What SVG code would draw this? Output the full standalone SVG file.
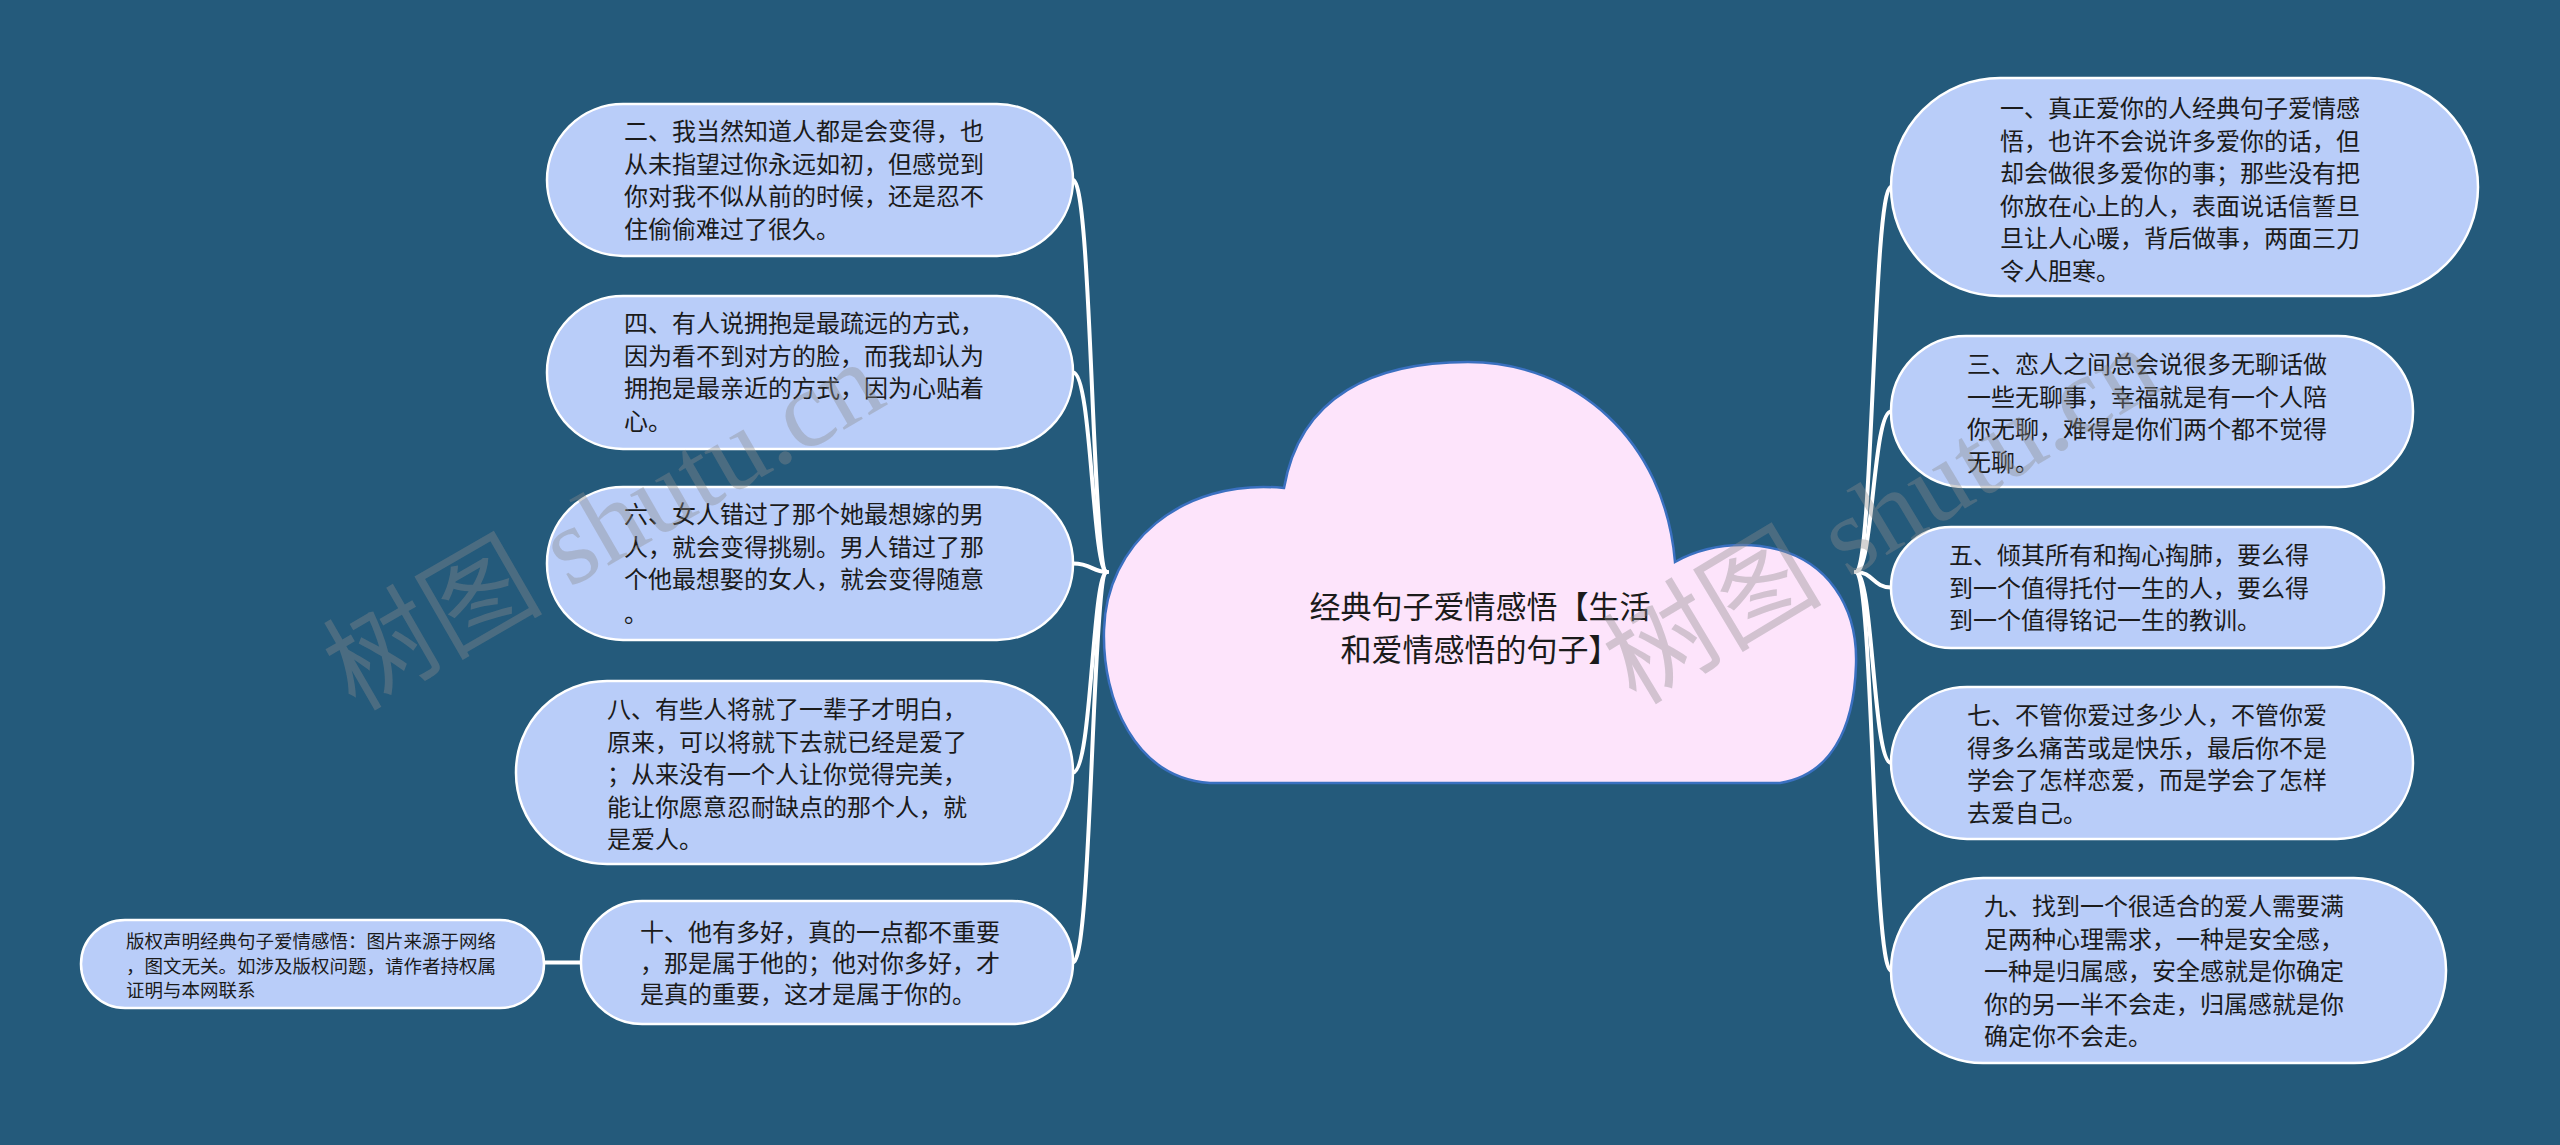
<svg xmlns="http://www.w3.org/2000/svg" width="2560" height="1145" viewBox="0 0 2560 1145">
<style>
.bg{fill:#245a7b}
.node{fill:#b9cdf9;stroke:#ffffff;stroke-width:2.5}
.t{font-family:"Noto Sans CJK SC","Noto Sans",sans-serif;font-size:24px;fill:#1b1b1b}
.ts{font-family:"Noto Sans CJK SC","Noto Sans",sans-serif;font-size:18.5px;fill:#1b1b1b}
.tc{font-family:"Noto Sans CJK SC","Noto Sans",sans-serif;font-size:31px;fill:#1b1b1b;text-anchor:middle}
.edge{fill:none;stroke:#ffffff;stroke-width:4;stroke-linecap:round}
.wm{font-family:"Liberation Serif","Noto Sans CJK SC",serif;font-size:110px;fill:#8c8c8c;fill-opacity:0.38}
</style>
<rect class="bg" x="0" y="0" width="2560" height="1145"/>

<g id="connectors">
<path class="edge" d="M1107,572 C1092,572 1092,180 1073,180"/>
<path class="edge" d="M1107,572 C1092,572 1092,372.5 1073,372.5"/>
<path class="edge" d="M1107,572 C1092,572 1092,563.5 1073,563.5"/>
<path class="edge" d="M1107,572 C1092,572 1092,772.5 1073,772.5"/>
<path class="edge" d="M1107,572 C1092,572 1092,962.5 1073,962.5"/>
<path class="edge" d="M544,962.5 L580,962.5"/>
<path class="edge" d="M1856,572 C1873,572 1873,187 1891,187"/>
<path class="edge" d="M1856,572 C1873,572 1873,411.5 1891,411.5"/>
<path class="edge" d="M1856,572 C1873,572 1873,587.5 1891,587.5"/>
<path class="edge" d="M1856,572 C1873,572 1873,763 1891,763"/>
<path class="edge" d="M1856,572 C1873,572 1873,970.5 1891,970.5"/>
</g>

<g id="center">
<path d="M1284,488 C1300,395 1375,362 1468,362 C1575,362 1665,440 1675,562 C1700,548 1730,543 1760,546 C1830,555 1858,610 1856,665 C1854,730 1830,775 1780,783 L1210,783 C1135,778 1102,700 1104,630 C1106,545 1180,478 1284,488 Z" fill="#fde4fb" stroke="#3a70c0" stroke-width="2.5"/>
<text class="tc" x="1480" y="618">经典句子爱情感悟【生活</text>
<text class="tc" x="1480" y="661">和爱情感悟的句子】</text>
</g>

<g id="n2">
<rect class="node" x="547" y="104" width="526" height="152" rx="76"/>
<text class="t" x="624" y="140">二、我当然知道人都是会变得，也</text>
<text class="t" x="624" y="172.5">从未指望过你永远如初，但感觉到</text>
<text class="t" x="624" y="205">你对我不似从前的时候，还是忍不</text>
<text class="t" x="624" y="237.5">住偷偷难过了很久。</text>
</g>

<g id="n4">
<rect class="node" x="547" y="296" width="526" height="153" rx="76"/>
<text class="t" x="624" y="332">四、有人说拥抱是最疏远的方式，</text>
<text class="t" x="624" y="364.5">因为看不到对方的脸，而我却认为</text>
<text class="t" x="624" y="397">拥抱是最亲近的方式，因为心贴着</text>
<text class="t" x="624" y="429.5">心。</text>
</g>

<g id="n6">
<rect class="node" x="547" y="487" width="526" height="153" rx="76"/>
<text class="t" x="624" y="523">六、女人错过了那个她最想嫁的男</text>
<text class="t" x="624" y="555.5">人，就会变得挑剔。男人错过了那</text>
<text class="t" x="624" y="588">个他最想娶的女人，就会变得随意</text>
<text class="t" x="624" y="622">。</text>
</g>

<g id="n8">
<rect class="node" x="516" y="681" width="557" height="183" rx="91"/>
<text class="t" x="607" y="718">八、有些人将就了一辈子才明白，</text>
<text class="t" x="607" y="750.5">原来，可以将就下去就已经是爱了</text>
<text class="t" x="607" y="783">；从来没有一个人让你觉得完美，</text>
<text class="t" x="607" y="815.5">能让你愿意忍耐缺点的那个人，就</text>
<text class="t" x="607" y="848">是爱人。</text>
</g>

<g id="n10">
<rect class="node" x="581" y="901" width="492" height="123" rx="61"/>
<text class="t" x="640" y="941">十、他有多好，真的一点都不重要</text>
<text class="t" x="640" y="972">，那是属于他的；他对你多好，才</text>
<text class="t" x="640" y="1003">是真的重要，这才是属于你的。</text>
</g>

<g id="copyright">
<rect class="node" x="81" y="920" width="463" height="88" rx="44"/>
<text class="ts" x="126" y="948">版权声明经典句子爱情感悟：图片来源于网络</text>
<text class="ts" x="126" y="972.5">，图文无关。如涉及版权问题，请作者持权属</text>
<text class="ts" x="126" y="997">证明与本网联系</text>
</g>

<g id="n1">
<rect class="node" x="1891" y="78" width="587" height="218" rx="109"/>
<text class="t" x="2000" y="117">一、真正爱你的人经典句子爱情感</text>
<text class="t" x="2000" y="149.5">悟，也许不会说许多爱你的话，但</text>
<text class="t" x="2000" y="182">却会做很多爱你的事；那些没有把</text>
<text class="t" x="2000" y="214.5">你放在心上的人，表面说话信誓旦</text>
<text class="t" x="2000" y="247">旦让人心暖，背后做事，两面三刀</text>
<text class="t" x="2000" y="279.5">令人胆寒。</text>
</g>

<g id="n3">
<rect class="node" x="1891" y="336" width="522" height="151" rx="75"/>
<text class="t" x="1967" y="373">三、恋人之间总会说很多无聊话做</text>
<text class="t" x="1967" y="405.5">一些无聊事，幸福就是有一个人陪</text>
<text class="t" x="1967" y="438">你无聊，难得是你们两个都不觉得</text>
<text class="t" x="1967" y="470.5">无聊。</text>
</g>

<g id="n5">
<rect class="node" x="1891" y="527" width="493" height="121" rx="60"/>
<text class="t" x="1949" y="564">五、倾其所有和掏心掏肺，要么得</text>
<text class="t" x="1949" y="596.5">到一个值得托付一生的人，要么得</text>
<text class="t" x="1949" y="629">到一个值得铭记一生的教训。</text>
</g>

<g id="n7">
<rect class="node" x="1891" y="687" width="522" height="152" rx="76"/>
<text class="t" x="1967" y="724">七、不管你爱过多少人，不管你爱</text>
<text class="t" x="1967" y="756.5">得多么痛苦或是快乐，最后你不是</text>
<text class="t" x="1967" y="789">学会了怎样恋爱，而是学会了怎样</text>
<text class="t" x="1967" y="821.5">去爱自己。</text>
</g>

<g id="n9">
<rect class="node" x="1891" y="878" width="555" height="185" rx="92"/>
<text class="t" x="1984" y="915">九、找到一个很适合的爱人需要满</text>
<text class="t" x="1984" y="947.5">足两种心理需求，一种是安全感，</text>
<text class="t" x="1984" y="980">一种是归属感，安全感就是你确定</text>
<text class="t" x="1984" y="1012.5">你的另一半不会走，归属感就是你</text>
<text class="t" x="1984" y="1045">确定你不会走。</text>
</g>

<g id="watermark">
<text class="wm" x="355" y="712" transform="rotate(-30 355 712)">树图 shutu.cn</text>
<text class="wm" x="1636" y="706" transform="rotate(-31 1636 706)">树图 shutu.cn</text>
</g>
</svg>
